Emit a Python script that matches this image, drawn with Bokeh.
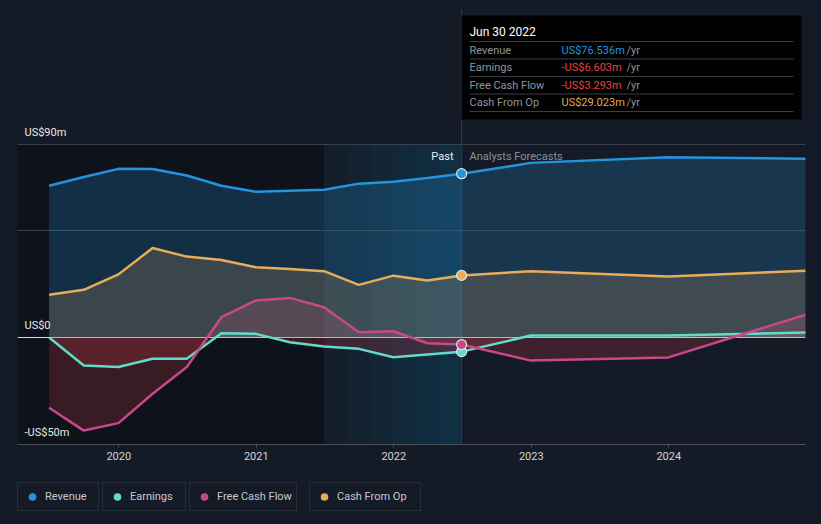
import numpy as np
from datetime import date
from bokeh.plotting import figure
from bokeh.layouts import column
from bokeh.models import (Range1d, FixedTicker, BoxAnnotation, Span, Label,
                          Legend, LegendItem, ColumnDataSource)
from bokeh.embed import file_html
from bokeh.resources import INLINE

# ---------------- data (US$ millions, trailing twelve months) ----------------
past_dates = ["2019-06-30", "2019-09-30", "2019-12-31", "2020-03-31", "2020-06-30",
              "2020-09-30", "2020-12-31", "2021-03-31", "2021-06-30", "2021-09-30",
              "2021-12-31", "2022-03-31", "2022-06-30"]
revenue_past = [70.9, 75.0, 78.8, 78.7, 75.7, 70.9, 68.1, 68.6, 69.0, 71.9, 72.8, 74.5, 76.536]
earnings_past = [0.0, -13.1, -13.8, -9.9, -9.9, 2.0, 1.7, -2.2, -4.2, -5.3, -9.2, -7.9, -6.603]
fcf_past = [-32.8, -43.5, -40.0, -26.3, -13.8, 9.5, 17.3, 18.5, 14.1, 2.5, 2.9, -2.7, -3.293]
cfo_past = [20.0, 22.3, 29.5, 41.8, 37.8, 36.2, 32.8, 32.0, 31.0, 24.6, 28.9, 26.6, 29.023]

forecast_dates = ["2022-12-31", "2023-12-31", "2024-12-31"]
revenue_fc = [81.6, 84.2, 83.5]
earnings_fc = [0.9, 0.9, 2.3]
fcf_fc = [-10.8, -9.3, 10.7]
cfo_fc = [31.0, 28.5, 31.2]

year_ticks = [2020, 2021, 2022, 2023, 2024]
y_tick_labels = {90: "US$90m", 0: "US$0", -50: "-US$50m"}
highlight_start = "2021-06-30"
tooltip_title = "Jun 30 2022"
tooltip_rows = [("Revenue", "US$76.536m"), ("Earnings", "-US$6.603m"),
                ("Free Cash Flow", "-US$3.293m"), ("Cash From Op", "US$29.023m")]

# ---------------- style ----------------
BG = "#151b26"
C_REV = "#2394df"
C_EARN = "#62dcc8"
C_FCF = "#c8488a"
C_CFO = "#e8ac5b"
C_NEG = "#e0424a"
FONT = "Roboto"
W = 821
H_MAIN = 470
H_LEG = 54


def dec_year(s):
    d = date.fromisoformat(s)
    start = date(d.year, 1, 1)
    n = (date(d.year + 1, 1, 1) - start).days
    return d.year + (d - start).days / n


# page-pixel helpers for annotation placement (frame: x 17..805, y 8..444)
def px2x(px):
    return 2020 + (px - 118.3) / 137.5


def py2y(py):
    return (337 - py) / 2.14


def split_at_zero(x, v):
    """Add the zero crossings so that areas can be clipped at zero cleanly."""
    xs, vs = [x[0]], [v[0]]
    for i in range(1, len(x)):
        if v[i - 1] * v[i] < 0:
            t = v[i - 1] / (v[i - 1] - v[i])
            xs.append(x[i - 1] + t * (x[i] - x[i - 1]))
            vs.append(0.0)
        xs.append(x[i])
        vs.append(v[i])
    return np.array(xs), np.array(vs)


x_all = np.array([dec_year(s) for s in past_dates + forecast_dates])
series = [
    ("Revenue", C_REV, revenue_past + revenue_fc, 0.22),
    ("Earnings", C_EARN, earnings_past + earnings_fc, 0.12),
    ("Free Cash Flow", C_FCF, fcf_past + fcf_fc, 0.2),
    ("Cash From Op", C_CFO, cfo_past + cfo_fc, 0.19),
]

p = figure(width=W, height=H_MAIN, output_backend="svg", toolbar_location=None,
           x_range=Range1d(px2x(17), px2x(805)), y_range=Range1d(py2y(444), py2y(8)),
           min_border_left=17, min_border_right=W - 805, min_border_top=8,
           min_border_bottom=H_MAIN - 444)
p.background_fill_color = None
p.border_fill_color = BG
p.outline_line_color = None
p.yaxis.visible = False
p.xgrid.visible = False
p.ygrid.ticker = FixedTicker(ticks=[50, 90])
p.ygrid.grid_line_color = "#3a404b"
p.ygrid.grid_line_width = 1

p.xaxis.ticker = FixedTicker(ticks=year_ticks)
p.xaxis.major_label_overrides = {t: str(t) for t in year_ticks}
p.xaxis.axis_line_color = "#4a4f58"
p.xaxis.major_tick_line_color = "#4a4f58"
p.xaxis.minor_tick_line_color = None
p.xaxis.major_tick_out = 3
p.xaxis.major_tick_in = 0
p.xaxis.major_label_standoff = 4
p.xaxis.major_label_text_color = "#d2d4d8"
p.xaxis.major_label_text_font = FONT
p.xaxis.major_label_text_font_size = "11px"

x_div = dec_year(past_dates[-1])
x_hl = dec_year(highlight_start)

# background regions
p.add_layout(BoxAnnotation(right=x_hl, top=90, fill_color="#07090d", fill_alpha=0.5,
                           line_color=None, level="image"))
steps = 6
for i in range(steps):
    l = x_hl + (x_div - x_hl) * i / steps
    r = x_hl + (x_div - x_hl) * (i + 1) / steps
    p.add_layout(BoxAnnotation(left=l, right=r, top=90, fill_color="#0b4a66",
                               fill_alpha=0.1 + 0.07 * i, line_color=None, level="image"))
p.add_layout(Span(location=x_div, dimension="height", line_color="#24404f",
                  line_width=1, level="underlay"))

# fills, clipped at zero
for name, col, vals, a in series:
    xs, vs = split_at_zero(x_all, np.array(vals, dtype=float))
    p.varea(x=xs, y1=0, y2=np.maximum(vs, 0), fill_color=col, fill_alpha=a)
for name, col, vals, a in series:
    xs, vs = split_at_zero(x_all, np.array(vals, dtype=float))
    if (vs < 0).any():
        p.varea(x=xs, y1=0, y2=np.minimum(vs, 0), fill_color=C_NEG, fill_alpha=0.2)

p.add_layout(Span(location=0, dimension="width", line_color="#d8d8d8",
                  line_width=1, level="underlay"))

# lines and Jun 2022 markers
n_past = len(past_dates)
for name, col, vals, a in series:
    p.line(x=x_all, y=vals, line_color=col, line_width=2.5)
for name, col, vals, a in series:
    p.scatter(x=[x_all[n_past - 1]], y=[vals[n_past - 1]], size=10, fill_color=col,
              line_color="#dde4ec", line_width=1.2)

# y labels
for val, txt in y_tick_labels.items():
    off = {90: 132, 0: 325, -50: 432}[val]
    p.add_layout(Label(x=px2x(24), y=py2y(off), text=txt, text_color="#e6e8eb",
                       text_font=FONT, text_font_size="11px", text_baseline="middle"))

p.add_layout(Label(x=px2x(453), y=py2y(156), text="Past", text_color="#eeeeee",
                   text_font=FONT, text_font_size="11px", text_baseline="middle",
                   text_align="right"))
p.add_layout(Label(x=px2x(469), y=py2y(156), text="Analysts Forecasts",
                   text_color="#8b9099", text_font=FONT, text_font_size="11px",
                   text_baseline="middle"))

# tooltip box
p.add_layout(BoxAnnotation(left=px2x(461), right=px2x(801), top=py2y(15), bottom=py2y(119),
                           fill_color="#000000", fill_alpha=0.95, line_color=None))
for sy in [41, 58.5, 76, 93.5, 111]:
    p.add_layout(BoxAnnotation(left=px2x(469), right=px2x(793), top=py2y(sy - 0.5),
                               bottom=py2y(sy + 0.5), fill_color="#3a3d43",
                               fill_alpha=1, line_color=None))
p.add_layout(Label(x=px2x(469), y=py2y(31), text=tooltip_title, text_color="#ffffff",
                   text_font=FONT, text_font_size="12px", text_baseline="middle"))
val_colors = [C_REV, "#e5413f", "#e5413f", "#e4a853"]
for i, (lab, val) in enumerate(tooltip_rows):
    cy = 49.5 + i * 17.5
    p.add_layout(Label(x=px2x(469), y=py2y(cy), text=lab, text_color="#8f949b",
                       text_font=FONT, text_font_size="11px", text_baseline="middle"))
    p.add_layout(Label(x=px2x(561), y=py2y(cy), text=val, text_color=val_colors[i],
                       text_font=FONT, text_font_size="11px", text_baseline="middle"))
    p.add_layout(Label(x=px2x(626), y=py2y(cy), text="/yr", text_color="#8f949b",
                       text_font=FONT, text_font_size="11px", text_baseline="middle"))

# ---------------- legend strip: one bordered box per series ----------------
lg = figure(width=W, height=H_LEG, output_backend="svg", toolbar_location=None,
            x_range=Range1d(0, 1), y_range=Range1d(0, 1),
            min_border_left=17, min_border_right=W - 805, min_border_top=0,
            min_border_bottom=0)
lg.axis.visible = False
lg.grid.visible = False
lg.background_fill_color = None
lg.border_fill_color = BG
lg.outline_line_color = None

leg_x = [0, 85, 172, 292]          # box offsets from the frame's left edge
leg_w = [80, 82, 106, 110]         # box widths
for (name, col, vals, a), lx, bw in zip(series, leg_x, leg_w):
    src = ColumnDataSource(dict(x=[float("nan")], y=[float("nan")]))
    r = lg.scatter(x="x", y="y", source=src, size=8, fill_color=col, line_color=None)
    leg = Legend(items=[LegendItem(label=name, renderers=[r])], location=(lx, 13),
                 orientation="horizontal", padding=4, margin=0, spacing=0,
                 glyph_width=20, glyph_height=19, label_height=19, label_standoff=3,
                 label_width=bw - 31,
                 label_text_font=FONT, label_text_font_size="11px",
                 label_text_color="#c5c9d0", border_line_color="#3a404c",
                 border_line_width=1, background_fill_color=BG, background_fill_alpha=1)
    lg.add_layout(leg)

layout = column(p, lg, spacing=0)
html = file_html(layout, INLINE)
html = html.replace("</head>", "<style>html, body { background: %s; }</style></head>" % BG, 1)
open("out.html", "w").write(html)
